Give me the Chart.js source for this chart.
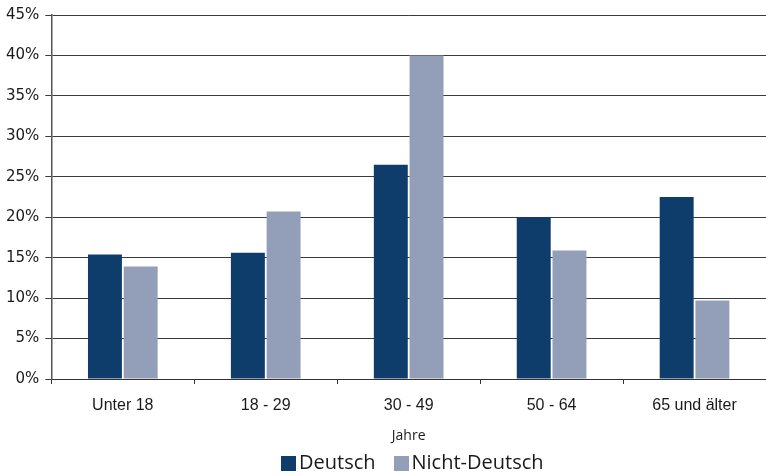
<!DOCTYPE html>
<html>
<head>
<meta charset="utf-8">
<script src="https://cdn.jsdelivr.net/npm/chart.js@4/dist/chart.umd.min.js"></script>
<style>
  html, body { margin: 0; padding: 0; background: #fff; }
  #wrap { width: 766px; height: 476px; position: relative; }
  #legend { position: absolute; left: 281px; top: 449px; display: flex; align-items: center; font-family: 'Open Sans', sans-serif; font-size: 20px; color: #1a1a1a; line-height: 26px; }
  #legend .item { display: flex; align-items: center; margin-right: 18px; }
  #legend .box { width: 15px; height: 15px; margin-right: 3px; margin-top: 2px; }
</style>
</head>
<body>
<div id="wrap">
  <canvas id="chart" width="766" height="476"></canvas>
  <div id="legend"></div>
</div>
<script>
const categories = ['Unter 18', '18 - 29', '30 - 49', '50 - 64', '65 und älter'];
const deutsch = [15.4, 15.6, 26.5, 20.0, 22.5];
const nichtDeutsch = [13.9, 20.7, 40.0, 15.9, 9.7];

const DARK = '#0e3d6b';
const LIGHT = '#939fb8';

const chart = new Chart(document.getElementById('chart'), {
  type: 'bar',
  data: {
    labels: categories,
    datasets: [
      { label: 'Deutsch', data: deutsch, backgroundColor: DARK, categoryPercentage: 0.5, barPercentage: 0.95 },
      { label: 'Nicht-Deutsch', data: nichtDeutsch, backgroundColor: LIGHT, categoryPercentage: 0.5, barPercentage: 0.95 },
    ],
  },
  options: {
    responsive: false,
    animation: false,
    layout: { padding: { top: 7, right: 0, left: 0, bottom: 32 } },
    plugins: {
      tooltip: { enabled: false },
      legend: { display: false },
    },
    scales: {
      x: {
        grid: { drawOnChartArea: false, color: '#333', tickLength: 5, offset: true },
        border: { color: '#333', width: 1 },
        ticks: { color: '#1a1a1a', padding: 12, font: { family: 'Liberation Sans', size: 16 } },
        title: { display: true, text: 'Jahre', color: '#1a1a1a', padding: { top: 0, bottom: 0 }, font: { family: 'Open Sans', size: 14 } },
      },
      y: {
        min: 0, max: 45,
        grid: { color: '#3a3a3a', tickLength: 6 },
        border: { color: '#555', width: 1.5 },
        ticks: {
          stepSize: 5, color: '#1a1a1a', padding: 6,
          font: { family: 'DejaVu Sans', size: 15 },
          callback: v => v + '%',
        },
      },
    },
  },
});

// legend drawn in HTML so the item spacing can be set freely
document.getElementById('legend').innerHTML = chart.data.datasets.map(ds => `
  <div class="item"><span class="box" style="background:${ds.backgroundColor}"></span>${ds.label}</div>
`).join('');
</script>
</body>
</html>
